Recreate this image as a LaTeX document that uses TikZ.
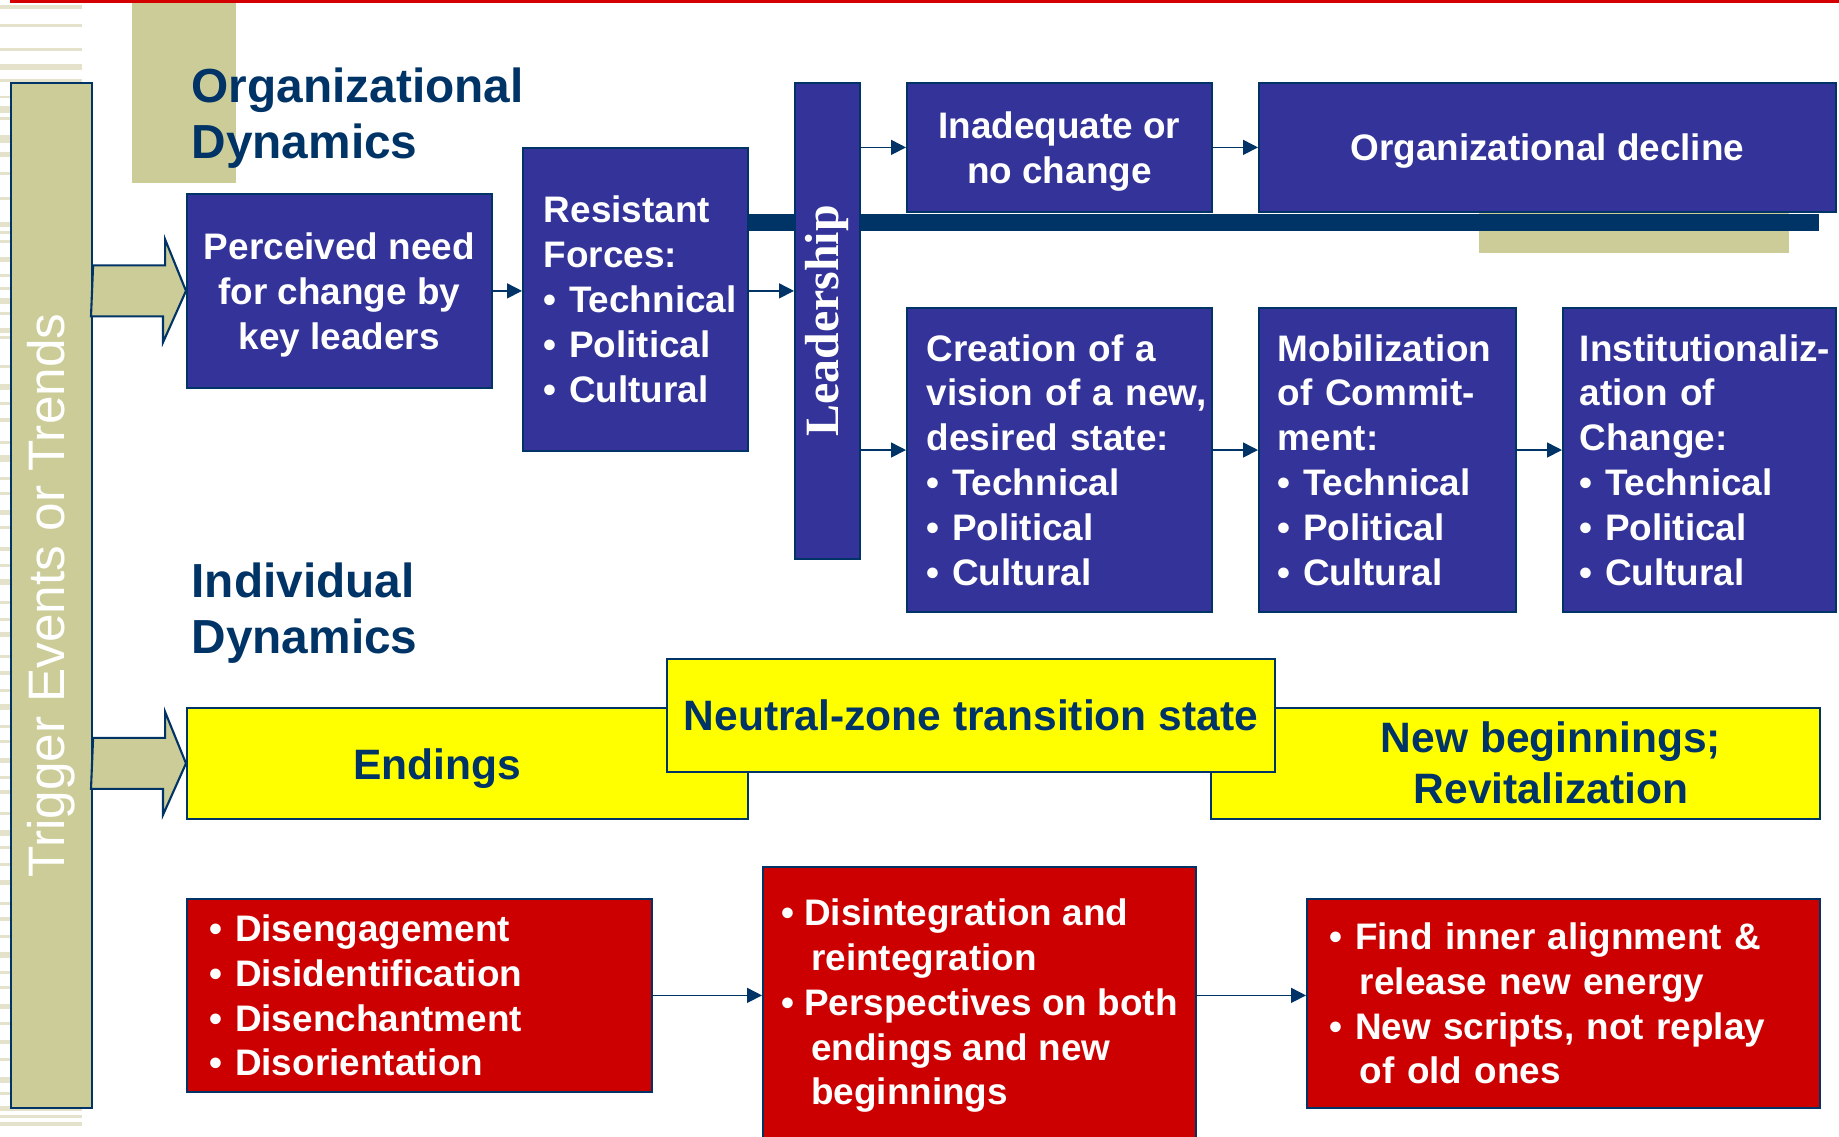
\documentclass[tikz,border=0pt]{standalone}
\usepackage{fontspec}
\setmainfont{Liberation Sans}
\newfontfamily\leadface{Liberation Serif}
\usepackage{tikz}
\usetikzlibrary{arrows.meta,calc,positioning}
\definecolor{Navy}{HTML}{003366}
\definecolor{Indigo}{HTML}{333399}
\definecolor{Crimson}{HTML}{CC0000}
\definecolor{Lemon}{HTML}{FFFF00}
\definecolor{Khaki}{HTML}{CCCC99}
\definecolor{Stripe}{HTML}{E4E2CB}
\definecolor{TopRule}{HTML}{D40000}
\newcommand{\cellfont}{\bfseries\fontsize{10.5}{12.75}\selectfont}
\newcommand{\bandfont}{\bfseries\fontsize{12.1}{14.4}\selectfont}
\newcommand{\dynfont}{\bfseries\fontsize{13.6}{15.9}\selectfont}
\newcommand{\itm}{\textbullet\ }
\newcommand{\contd}{\hspace*{0.30cm}}

\begin{document}
\begin{tikzpicture}[
  bluebox/.style={draw=Navy,line width=0.5pt,fill=Indigo,text=white,font=\cellfont,anchor=north west},
  centred/.style={align=center,text depth=0pt},
  text pad/.style={align=left,execute at begin node={\leftskip=#1}},
  redbox/.style={draw=Navy,line width=0.5pt,fill=Crimson,text=white,font=\cellfont,anchor=north west,align=left},
  yellowbox/.style={draw=Navy,line width=0.5pt,fill=Lemon,text=Navy,font=\bandfont,anchor=north west},
  box size/.style 2 args={minimum width=#1cm,minimum height=#2cm},
  flow/.style={-{Triangle[length=1.5mm,width=1.5mm]},Navy,line width=0.45pt},
  fatarrow/.style={draw=Navy,line width=0.6pt,fill=Khaki,line join=miter},
  heading/.style={font=\dynfont,text=Navy,align=left,anchor=base west,inner sep=0pt}
]
\useasboundingbox (0,0) rectangle (18.39,-11.36);

% striped margin on the left
\foreach \y/\h in {0.05/0.04,0.24/0.03,0.48/0.03,0.64/0.06,0.79/0.03,0.96/0.02,1.06/0.07,
  1.17/0.03,1.35/0.08,1.52/0.05,1.72/0.03,1.97/0.03,2.22/0.05,2.31/0.03,2.40/0.03,2.57/0.05,
  2.74/0.03,2.87/0.03,2.98/0.06,3.12/0.03,3.28/0.05,3.36/0.03,3.65/0.03,3.84/0.06,4.02/0.03,
  4.18/0.04,4.41/0.03,4.55/0.07,4.77/0.03,4.92/0.03,5.10/0.05,5.26/0.03,5.47/0.04,5.64/0.03,
  5.79/0.06,6.01/0.03,6.18/0.03,6.32/0.05,6.55/0.03,6.71/0.04,6.89/0.03,7.04/0.06,7.25/0.03,
  7.40/0.03,7.58/0.05,7.76/0.03,7.90/0.04,8.12/0.03,8.30/0.06,8.46/0.03,8.63/0.03,8.80/0.05,
  9.02/0.03,9.17/0.04,9.35/0.03,9.52/0.06,9.71/0.03,9.86/0.03,10.04/0.05,10.22/0.03,10.40/0.04,
  10.58/0.03,10.77/0.06,10.92/0.03,11.06/0.05,11.15/0.03,11.22/0.04}
  \fill[Stripe] (0,-\y) rectangle (0.82,-\y-\h);

\fill[TopRule] (0.10,0) rectangle (18.39,-0.03);
\fill[Khaki] (1.32,-0.03) rectangle (2.36,-1.83);

% base anchor sits on the last line
\node[heading] (orgtitle) at (1.91,-1.58) {Organizational\\Dynamics};
\node[heading] (indtitle) at (1.91,-6.53) {Individual\\Dynamics};

\node[draw=Navy,line width=0.6pt,fill=Khaki,text=white,font=\fontsize{14.6}{17}\selectfont,
  box size={0.81}{10.25},anchor=north west,inner sep=0pt] (trigger) at (0.10,-0.82)
  {\rotatebox{90}{Trigger Events or Trends}};

% organizational row
\node[bluebox,centred,box size={3.05}{1.94}] (perceived) at (1.86,-1.93)
  {Perceived need\\for change by\\key leaders};
\node[bluebox,box size={2.25}{3.03},text pad=0.16cm,text width=2.15cm,inner xsep=0.05cm] (resist) at (5.22,-1.47)
  {Resistant\\Forces:\\\itm Technical\\\itm Political\\\itm Cultural};

\fill[Khaki] (14.79,-2.00) rectangle (17.89,-2.53);
\fill[Navy] (7.47,-2.14) rectangle (18.19,-2.31);

\node[bluebox,box size={0.65}{4.76},inner sep=0pt,font=\leadface\bfseries\fontsize{13.6}{16}\selectfont] (lead) at (7.94,-0.82)
  {\rotatebox{90}{Leadership}};
\node[bluebox,centred,box size={3.05}{1.29}] (inadequate) at (9.06,-0.82) {Inadequate or\\no change};
\node[bluebox,centred,box size={5.77}{1.29}] (decline) at (12.58,-0.82) {Organizational decline};

\node[bluebox,box size={3.05}{3.04},text pad=0.15cm,text width=2.95cm,inner xsep=0.05cm] (creation) at (9.06,-3.07)
  {Creation of a\\vision of a new,\\desired state:\\\itm Technical\\\itm Political\\\itm Cultural};
\node[bluebox,box size={2.57}{3.04},align=left,text width=2.19cm,inner xsep=0.19cm] (mobil) at (12.58,-3.07)
  {Mobilization\\of Commit-\\ment:\\\itm Technical\\\itm Political\\\itm Cultural};
\node[bluebox,box size={2.73}{3.04},text pad=0.15cm,text width=2.69cm,inner xsep=0.02cm] (instit) at (15.62,-3.07)
  {Institutionaliz-\\ation of\\Change:\\\itm Technical\\\itm Political\\\itm Cultural};

\coordinate (row2) at (0,-4.50);
\draw[flow] (perceived.east) -- (resist.west |- perceived.east);
\draw[flow] (resist.east |- perceived.east) -- (lead.west |- perceived.east);
\draw[flow] (lead.east |- inadequate.west) -- (inadequate.west);
\draw[flow] (inadequate.east) -- (decline.west |- inadequate.east);
\draw[flow] (lead.east |- row2) -- (creation.west |- row2);
\draw[flow] (creation.east |- row2) -- (mobil.west |- row2);
\draw[flow] (mobil.east |- row2) -- (instit.west |- row2);

% individual row
\node[yellowbox,box size={5.61}{1.11}] (endings) at (1.86,-7.07) {};
\node[yellowbox,box size={6.09}{1.11}] (newbegin) at (12.10,-7.07) {};
\node[yellowbox,box size={6.08}{1.13}] (neutral) at (6.66,-6.58) {Neutral-zone transition state};
\node[font=\bandfont,text=Navy] (endingstext) at (4.37,-7.69) {Endings};
\node[font=\bandfont,text=Navy,align=center] (newbegintext) at (15.51,-7.625) {New beginnings;\\Revitalization};

\foreach \tgt in {perceived,endings}
  \draw[fatarrow] (trigger.east |- \tgt.west) ++(0,0.255) -- ++(0.72,0) -- ++(0,0.26) -- (\tgt.west)
    -- ++(-0.23,-0.515) -- ++(0,0.26) -- ++(-0.72,0) -- cycle;

\node[redbox,box size={4.65}{1.93},text width=4.19cm,inner xsep=0.23cm] (endred) at (1.86,-8.98)
  {\itm Disengagement\\\itm Disidentification\\\itm Disenchantment\\\itm Disorientation};
\node[redbox,box size={4.33}{2.78}] (neutralred) at (7.62,-8.66)
  {\itm Disintegration and\\\contd reintegration\\\itm Perspectives on both\\\contd endings and new\\\contd beginnings};
\node[redbox,box size={5.13}{2.09},text width=4.67cm,inner xsep=0.23cm] (newred) at (13.06,-8.98)
  {\itm Find inner alignment \&\\\contd release new energy\\\itm New scripts, not replay\\\contd of old ones};

\draw[flow] (endred.east) -- (neutralred.west |- endred.east);
\draw[flow] (neutralred.east |- endred.east) -- (newred.west |- endred.east);
\end{tikzpicture}
\end{document}
